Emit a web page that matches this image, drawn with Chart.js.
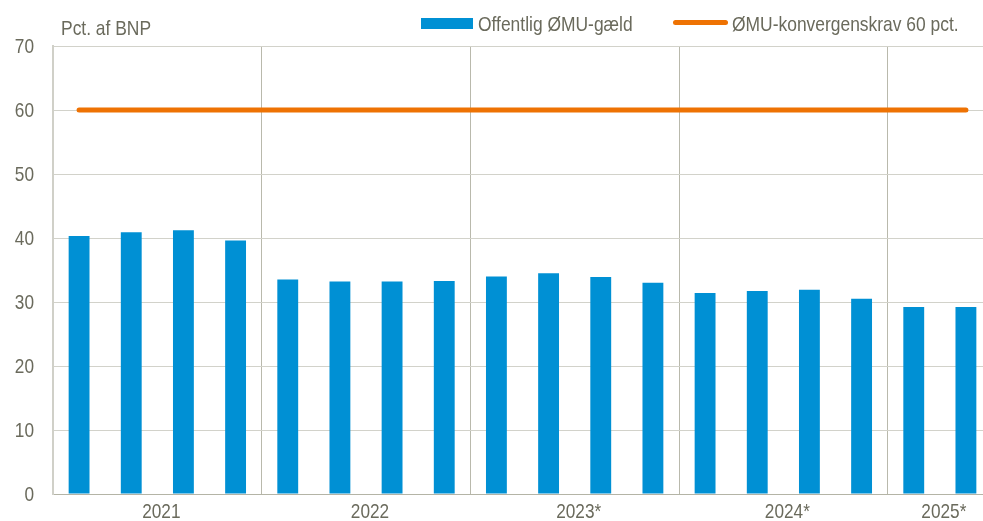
<!DOCTYPE html>
<html>
<head>
<meta charset="utf-8">
<script src="https://cdn.jsdelivr.net/npm/chart.js@4.4.1/dist/chart.umd.min.js"></script>
<style>
  html, body { margin: 0; padding: 0; background: #fff; overflow: hidden; }
  #wrap { position: relative; width: 1000px; height: 521px; }
  .txt { position: absolute; font-family: 'Liberation Sans', Arial, sans-serif; font-size: 21px; color: #6A6A5C; white-space: nowrap; line-height: 21px; transform: scaleX(0.83); transform-origin: 0 0; }
  .sw { position: absolute; }
</style>
</head>
<body>
<div id="wrap">
  <canvas id="c"></canvas>
  <div class="txt" style="left:61px; top:17px;">Pct. af BNP</div>
  <div class="sw" style="left:421px; top:18px; width:52px; height:11px; background:#0090D4;"></div>
  <div class="txt" style="left:478px; top:13px;">Offentlig ØMU-gæld</div>
  <div class="sw" style="left:673px; top:20px; width:55px; height:5px; background:#EE7203; border-radius:3px;"></div>
  <div class="txt" style="left:732px; top:13px;">ØMU-konvergenskrav 60 pct.</div>
</div>
<script>
const quarters = ["2021K1","2021K2","2021K3","2021K4","2022K1","2022K2","2022K3","2022K4","2023K1","2023K2","2023K3","2023K4","2024K1","2024K2","2024K3","2024K4","2025K1","2025K2"];
const debt = [40.3,40.9,41.2,39.6,33.5,33.2,33.2,33.3,34.0,34.5,33.9,33.0,31.4,31.7,31.9,30.5,29.2,29.2];
const limit = [60,60,60,60,60,60,60,60,60,60,60,60,60,60,60,60,60,60];
const years = ["2021","2022","2023*","2024*","2025*"];
const quartersPerYear = [4,4,4,4,2];
const yTicks = [0,10,20,30,40,50,60,70];

const textColor = '#6A6A5C';
const fontFamily = "'Liberation Sans', Arial, sans-serif";

// index of first quarter of each year (derived)
const yearStart = [];
let acc = 0;
quartersPerYear.forEach(n => { yearStart.push(acc); acc += n; });

// draw tick labels in a condensed face (the reference uses a narrow font)
const condensedLabels = {
  id: 'condensedLabels',
  afterDraw(chart) {
    const ctx = chart.ctx;
    const xs = chart.scales.x, ys = chart.scales.y;
    ctx.save();
    ctx.font = '21px ' + fontFamily;
    ctx.fillStyle = textColor;
    ctx.textBaseline = 'middle';
    // y tick labels
    ctx.textAlign = 'right';
    ys.ticks.forEach(t => {
      const py = ys.getPixelForValue(t.value);
      ctx.save();
      ctx.translate(ys.right - 19, py + 1);
      ctx.scale(0.82, 1);
      ctx.fillText(String(t.value), 0, 0);
      ctx.restore();
    });
    // year labels, centred under each year's group of quarters
    ctx.textAlign = 'center';
    years.forEach((label, i) => {
      const a = xs.getPixelForValue(yearStart[i]);
      const b = xs.getPixelForValue(yearStart[i] + quartersPerYear[i] - 1);
      ctx.save();
      ctx.translate((a + b) / 2 + 4, xs.top + 18);
      ctx.scale(0.82, 1);
      ctx.fillText(label, 0, 0);
      ctx.restore();
    });
    ctx.restore();
  }
};

new Chart(document.getElementById('c'), {
  type: 'bar',
  data: {
    labels: quarters,
    datasets: [
      {
        type: 'line',
        label: 'ØMU-konvergenskrav 60 pct.',
        data: limit,
        borderColor: '#EE7203',
        borderWidth: 5,
        borderCapStyle: 'round',
        pointRadius: 0,
        fill: false,
        order: 0
      },
      {
        type: 'bar',
        label: 'Offentlig ØMU-gæld',
        data: debt,
        backgroundColor: '#0090D4',
        borderWidth: 0,
        barPercentage: 0.4,
        categoryPercentage: 1.0,
        order: 1
      }
    ]
  },
  options: {
    responsive: true,
    maintainAspectRatio: false,
    animation: false,
    layout: { padding: { top: 46, right: 8, left: 0, bottom: 0 } },
    plugins: { legend: { display: false }, tooltip: { enabled: false } },
    scales: {
      x: {
        afterFit: (axis) => { axis.height = 27; },
        grid: {
          offset: true,
          drawTicks: false,
          lineWidth: 1,
          color: (ctx) => (ctx.index > 0 && yearStart.includes(ctx.index)) ? '#B9B9AC' : 'rgba(0,0,0,0)'
        },
        border: { display: false },
        ticks: { display: false }
      },
      y: {
        min: 0,
        max: 70,
        afterBuildTicks: (axis) => { axis.ticks = yTicks.map(v => ({ value: v })); },
        afterFit: (axis) => { axis.width = 53; },
        grid: {
          drawTicks: false,
          lineWidth: 1,
          color: (ctx) => ctx.index === 0 ? '#B4B4A6' : '#D2D2CA'
        },
        border: { display: true, color: '#D0D0C8', width: 2 },
        ticks: { display: false }
      }
    }
  },
  plugins: [condensedLabels]
});
</script>
</body>
</html>
